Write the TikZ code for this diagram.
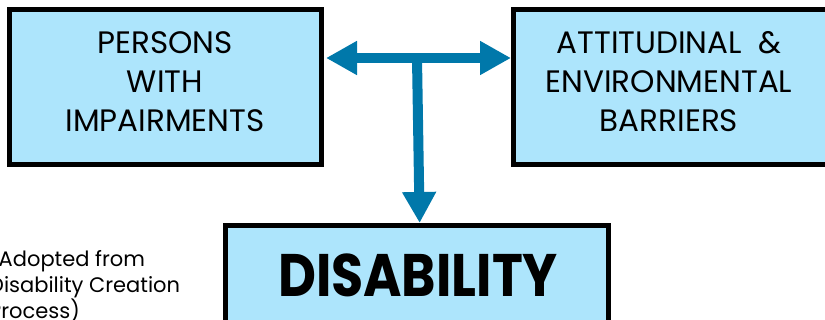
\documentclass[tikz,border=0pt]{standalone}
\usepackage{fontspec}
\setmainfont{Poppins}
\newfontfamily\narrowfont{Poppins}[FakeStretch=0.87]
\usetikzlibrary{arrows.meta}
\definecolor{boxfill}{RGB}{173,229,252}
\definecolor{arrowblue}{RGB}{0,120,170}
\begin{document}
\begin{tikzpicture}[x=1pt,y=-1pt,
  box/.style={draw=black, line width=5pt, fill=boxfill, inner sep=0pt},
  txt/.style={align=center, inner sep=0pt, font=\fontsize{31}{39}\selectfont},
  bigtxt/.style={inner sep=0pt, font=\narrowfont\fontsize{60}{60}\selectfont\bfseries},
  notetxt/.style={align=left, inner sep=0pt, font=\fontsize{21}{26}\selectfont},
  conn/.style={draw=arrowblue, line width=10pt},
  >={Triangle[length=31pt,width=32pt]}]
\useasboundingbox (0,0) rectangle (825,320);
\node[box, minimum width=311.5pt, minimum height=155.5pt] (pwi) at (165.25,87.25) {};
\node[box, minimum width=331.5pt, minimum height=155.5pt] (aeb) at (679.25,87.25) {};
\node[box, minimum width=383.3pt, minimum height=114.5pt] (dis) at (416.65,282.75) {};
\node[txt] (t1) at (165,81.7) {PERSONS\\WITH\\IMPAIRMENTS};
\node[txt] (t2) at (669,81.7) {ATTITUDINAL\ \ \&\\ENVIRONMENTAL\\BARRIERS};
\node[bigtxt, anchor=base] (t3) at (418,296.7) {DISABILITY};
\node[notetxt, anchor=base west] (src) at (-11,319) {(Adopted from\\Disability Creation\\Process)};
\coordinate (j) at (417,58);
\draw[conn,<->] ([xshift=2.5pt]pwi.east |- j) -- (aeb.west |- j);
\draw[conn,->] (j) -- ([xshift=3pt]dis.north);
\end{tikzpicture}
\end{document}
